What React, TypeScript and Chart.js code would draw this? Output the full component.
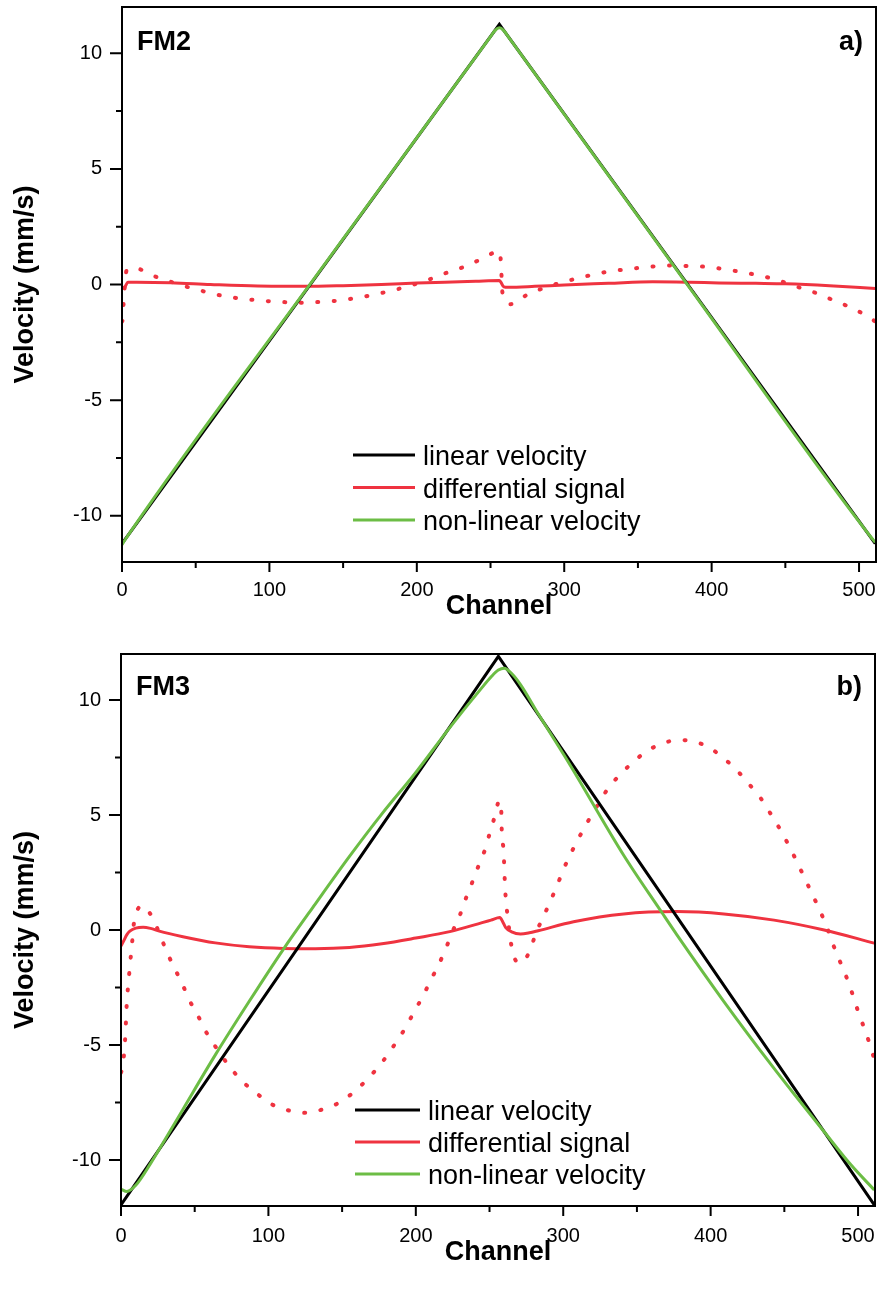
import { useEffect, useRef } from 'react';
import { Chart, registerables } from 'chart.js';

Chart.register(...registerables);

const FONT = '"Liberation Sans", Arial, Helvetica, sans-serif';
const BLACK = '#000000';
const RED = '#ef3340';
const GREEN = '#6cbd45';

// Axis ticks
const xMajorTicks = [0, 100, 200, 300, 400, 500];
const xMinorTicks = [50, 150, 250, 350, 450];
const yMajorTicks = [-10, -5, 0, 5, 10];
const yMinorTicks = [-7.5, -2.5, 2.5, 7.5];
const xRange = [0, 511.5];
const yRange = [-12, 12];

const xTitle = 'Channel';
const yTitle = 'Velocity (mm/s)';
const legendLabels = ['linear velocity', 'differential signal', 'non-linear velocity'];

type Pt = [number, number];

// ---- FM2 (channel, velocity) ----
const fm2Linear: Pt[] = [[0, -11.2], [256, 11.25], [511, -11.2]];
const fm2NonLinear: Pt[] = [
  [0, -11.25], [3, -10.95], [128, 0.05], [250, 10.72], [253, 10.98], [256, 11.1],
  [259, 10.98], [262, 10.72], [384, -0.05], [508, -10.92], [511, -11.15],
];
const fm2Diff: Pt[] = [
  [0, -0.15], [2, -0.1], [4, 0.1], [10, 0.1], [33, 0.08], [60, 0.0], [92, -0.07],
  [124, -0.08], [150, -0.05], [176, 0.0], [200, 0.06], [219, 0.1], [240, 0.14],
  [256, 0.17], [257, 0.1], [259, -0.1], [262, -0.12], [280, -0.08], [300, -0.02],
  [330, 0.05], [360, 0.12], [385, 0.1], [405, 0.07], [430, 0.05], [450, 0.03],
  [480, -0.05], [511, -0.17],
];
const fm2DiffDotted: Pt[] = [
  [0, -1.6], [0.4, -1.52], [1.1, -0.79], [2, 0.0], [3.1, 0.61], [7, 0.7], [11, 0.68],
  [22, 0.36], [33, 0.12], [44, -0.1], [55, -0.29], [66, -0.46], [77, -0.58], [88, -0.66],
  [99, -0.72], [110, -0.76], [121, -0.79], [132, -0.76], [143, -0.72], [154, -0.63],
  [164.5, -0.52], [176, -0.37], [187, -0.2], [198, 0.0], [209, 0.23], [220, 0.5],
  [231, 0.74], [242, 1.05], [253, 1.4], [256, 1.45], [257, 1.0], [258, -0.3], [260, -0.7],
  [263.7, -0.85], [269, -0.7], [275, -0.43], [286, -0.16], [297, 0.07], [308, 0.25],
  [319, 0.42], [330, 0.56], [340, 0.64], [351, 0.72], [362, 0.79], [373, 0.82], [384, 0.8],
  [395, 0.77], [405.6, 0.69], [416.5, 0.58], [427.6, 0.45], [438.4, 0.3], [449, 0.1],
  [460, -0.14], [471.7, -0.39], [482.5, -0.68], [493.4, -0.97], [504.6, -1.33], [511, -1.6],
];

// ---- FM3 (channel, velocity) ----
const fm3Linear: Pt[] = [[0, -11.95], [256, 11.9], [511, -11.95]];
const fm3NonLinear: Pt[] = [
  [0, -11.27], [4, -11.37], [10, -11.1], [20, -10.16], [30, -9.1], [42, -7.8],
  [64, -5.43], [87, -3.1], [110, -0.85], [132, 1.15], [155, 3.2], [177, 5.05],
  [200, 6.85], [223, 8.8], [245, 10.55], [251, 11.0], [256, 11.3], [260, 11.38],
  [265, 11.15], [271, 10.67], [283, 9.4], [303, 7.35], [341, 3.25], [367, 0.75],
  [377, -0.2], [409, -3.11], [443, -6.02], [455, -7.0], [477, -8.77], [495, -10.2],
  [511, -11.3],
];
const fm3Diff: Pt[] = [
  [0, -0.7], [2, -0.45], [4, -0.2], [6, -0.05], [10, 0.08], [15, 0.12], [20, 0.07],
  [26, -0.05], [42, -0.29], [64, -0.56], [87, -0.73], [110, -0.8], [132, -0.81],
  [155, -0.76], [177, -0.6], [200, -0.35], [223, -0.07], [245, 0.32], [251, 0.43],
  [257, 0.54], [259, 0.35], [261, 0.1], [265, -0.08], [271, -0.17], [277, -0.12],
  [283, -0.03], [307, 0.36], [341, 0.7], [377, 0.8], [409, 0.7], [443, 0.43], [477, 0.0],
  [511, -0.57],
];
const fm3DiffDotted: Pt[] = [
  [0, -6.2], [1.1, -5.94], [2.9, -4.64], [3.8, -3.33], [5.6, -1.88], [7.5, -0.58],
  [9, 0.43], [11, 0.85], [13.6, 1.05], [16, 1.0], [21, 0.58], [26, -0.14], [31, -0.94],
  [36, -1.62], [41.4, -2.32], [46.3, -3.04], [52, -3.7], [57.6, -4.42], [64.4, -5.1],
  [72.4, -5.83], [81.4, -6.52], [92.7, -7.14], [102.9, -7.6], [114, -7.85], [125, -7.95],
  [136.8, -7.8], [147, -7.54], [157.5, -7.07], [168.4, -6.4], [177.5, -5.72], [185.4, -5.0],
  [192.8, -4.27], [198.9, -3.55], [204.6, -2.9], [210.2, -2.17], [215.4, -1.52],
  [220.4, -0.8], [224.9, -0.07], [229.9, 0.65], [234, 1.38], [238, 2.03], [242.3, 2.75],
  [246.4, 3.4], [249.8, 4.13], [253.2, 4.86], [256.6, 5.6], [257.7, 5.6], [258.4, 4.13],
  [259.5, 3.48], [260, 2.75], [260.4, 2.06], [261, 1.38], [262.2, 0.65], [265, -0.73],
  [269.4, -1.42], [273, -1.35], [277.6, -0.87], [281.4, -0.14], [286.6, 0.58],
  [291.1, 1.23], [295.7, 1.91], [300.2, 2.64], [305.2, 3.33], [310.8, 4.03], [316.9, 4.74],
  [323.3, 5.43], [330.5, 6.16], [340.2, 6.86], [350, 7.45], [360, 7.9], [370, 8.17],
  [380, 8.26], [390, 8.17], [400, 7.9], [408, 7.5], [415.5, 7.1], [425, 6.42], [434, 5.73],
  [440.8, 5.04], [447.6, 4.32], [453.2, 3.65], [458.5, 2.97], [463.8, 2.25], [469, 1.55],
  [474.2, 0.83], [478.8, 0.14], [482.6, -0.55], [487.1, -1.27], [491.6, -1.96],
  [495.5, -2.65], [499.1, -3.36], [503, -4.06], [507, -4.78], [510.4, -5.48], [511, -5.6],
];

type PanelSpec = {
  tag: string;
  letter: string;
  linear: Pt[];
  nonLinear: Pt[];
  diff: Pt[];
  diffDotted: Pt[];
  top: number;
  height: number;
  padTop: number;
  padRight: number;
  yAxisWidth: number;
  xAxisHeight: number;
  xTickPad: number;
  xTitlePad: number;
  tagBaseline: number;
  legend: { x0: number; x1: number; textX: number; rows: number[] };
};

const panels: PanelSpec[] = [
  {
    tag: 'FM2', letter: 'a)',
    linear: fm2Linear, nonLinear: fm2NonLinear, diff: fm2Diff, diffDotted: fm2DiffDotted,
    top: 0, height: 640, padTop: 7, padRight: 1, yAxisWidth: 122, xAxisHeight: 78,
    xTickPad: 16, xTitlePad: 17, tagBaseline: 50,
    legend: { x0: 353, x1: 415, textX: 423, rows: [455, 487.5, 520] },
  },
  {
    tag: 'FM3', letter: 'b)',
    linear: fm3Linear, nonLinear: fm3NonLinear, diff: fm3Diff, diffDotted: fm3DiffDotted,
    top: 640, height: 651, padTop: 14, padRight: 2, yAxisWidth: 121, xAxisHeight: 85,
    xTickPad: 18, xTitlePad: 22, tagBaseline: 55,
    legend: { x0: 355, x1: 420, textX: 428, rows: [470, 502, 534] },
  },
];

const toPoints = (pts: Pt[]) => pts.map(([x, y]) => ({ x, y }));

// Frame, tick marks, panel tags and the in-plot legend
const panelDecor = {
  id: 'panelDecor',
  afterDraw(chart: any, _args: any, opts: any) {
    const { ctx, chartArea: a } = chart;
    const xs = chart.scales.x;
    const ys = chart.scales.y;
    ctx.save();
    ctx.strokeStyle = BLACK;
    ctx.lineWidth = 2;
    ctx.lineCap = 'butt';
    ctx.strokeRect(a.left, a.top, a.right - a.left, a.bottom - a.top);

    ctx.beginPath();
    const tickX = (vals: number[], len: number) =>
      vals.forEach((v) => {
        const p = xs.getPixelForValue(v);
        ctx.moveTo(p, a.bottom);
        ctx.lineTo(p, a.bottom + len);
      });
    const tickY = (vals: number[], len: number) =>
      vals.forEach((v) => {
        const p = ys.getPixelForValue(v);
        ctx.moveTo(a.left, p);
        ctx.lineTo(a.left - len, p);
      });
    tickX(xMajorTicks, 10);
    tickX(xMinorTicks, 6);
    tickY(yMajorTicks, 12);
    tickY(yMinorTicks, 6);
    ctx.stroke();

    ctx.fillStyle = BLACK;
    ctx.font = `bold 27px ${FONT}`;
    ctx.textBaseline = 'alphabetic';
    ctx.textAlign = 'left';
    ctx.fillText(opts.tag, a.left + 15, opts.tagBaseline);
    ctx.textAlign = 'right';
    ctx.fillText(opts.letter, a.right - 13, opts.tagBaseline);

    const lg = opts.legend;
    ctx.font = `27px ${FONT}`;
    ctx.textAlign = 'left';
    ctx.lineWidth = 3;
    legendLabels.forEach((label, i) => {
      const ds = chart.data.datasets.find((d: any) => d.label === label);
      if (!ds) return;
      const y = lg.rows[i];
      ctx.strokeStyle = ds.borderColor;
      ctx.beginPath();
      ctx.moveTo(lg.x0, y);
      ctx.lineTo(lg.x1, y);
      ctx.stroke();
      ctx.fillText(label, lg.textX, y + 10);
    });
    ctx.restore();
  },
};

function buildConfig(spec: PanelSpec): any {
  const line = { pointRadius: 0, pointHoverRadius: 0, fill: false };
  const smooth = { ...line, cubicInterpolationMode: 'monotone' };
  return {
    type: 'line',
    data: {
      datasets: [
        { ...line, tension: 0, label: legendLabels[0], data: toPoints(spec.linear), borderColor: BLACK, borderWidth: 3, order: 1 },
        { ...smooth, label: legendLabels[1], data: toPoints(spec.diff), borderColor: RED, borderWidth: 3, order: 2 },
        {
          ...smooth, label: 'differential signal (dotted)', data: toPoints(spec.diffDotted),
          borderColor: RED, borderWidth: 4, borderDash: [1, 15.5], borderCapStyle: 'round', order: 3,
        },
        { ...smooth, label: legendLabels[2], data: toPoints(spec.nonLinear), borderColor: GREEN, borderWidth: 3, order: 0 },
      ],
    },
    options: {
      responsive: false,
      maintainAspectRatio: false,
      animation: false,
      devicePixelRatio: 1,
      events: [],
      layout: { padding: { top: spec.padTop, right: spec.padRight, left: 0, bottom: 0 } },
      plugins: {
        legend: { display: false },
        tooltip: { enabled: false },
        panelDecor: { tag: spec.tag, letter: spec.letter, tagBaseline: spec.tagBaseline, legend: spec.legend },
      },
      scales: {
        x: {
          type: 'linear',
          min: xRange[0],
          max: xRange[1],
          bounds: 'data',
          afterBuildTicks: (s: any) => { s.ticks = xMajorTicks.map((value) => ({ value })); },
          afterFit: (s: any) => { s.height = spec.xAxisHeight; s.paddingLeft = 0; s.paddingRight = 0; },
          grid: { display: false, drawTicks: false },
          border: { display: false },
          ticks: {
            color: BLACK, font: { family: FONT, size: 20 }, padding: spec.xTickPad,
            maxRotation: 0, autoSkip: false, callback: (v: number) => String(v),
          },
          title: {
            display: true, text: xTitle, color: BLACK,
            font: { family: FONT, size: 27, weight: 'bold' },
            padding: { top: 0, bottom: spec.xTitlePad },
          },
        },
        y: {
          type: 'linear',
          min: yRange[0],
          max: yRange[1],
          bounds: 'data',
          afterBuildTicks: (s: any) => { s.ticks = yMajorTicks.map((value) => ({ value })); },
          afterFit: (s: any) => { s.width = spec.yAxisWidth; s.paddingTop = 0; s.paddingBottom = 0; },
          grid: { display: false, drawTicks: false },
          border: { display: false },
          ticks: {
            color: BLACK, font: { family: FONT, size: 20 }, padding: 20,
            autoSkip: false, callback: (v: number) => String(v),
          },
          title: {
            display: true, text: yTitle, color: BLACK,
            font: { family: FONT, size: 27, weight: 'bold' },
            padding: { top: 9, bottom: 0 },
          },
        },
      },
    },
    plugins: [panelDecor],
  };
}

function Panel({ spec }: { spec: PanelSpec }) {
  const ref = useRef<HTMLCanvasElement>(null);
  useEffect(() => {
    if (!ref.current) return;
    const chart = new Chart(ref.current, buildConfig(spec));
    return () => chart.destroy();
  }, [spec]);
  return (
    <canvas
      ref={ref}
      width={877}
      height={spec.height}
      style={{ position: 'absolute', left: 0, top: spec.top, width: 877, height: spec.height, display: 'block' }}
    />
  );
}

export default function App() {
  return (
    <div style={{ position: 'absolute', left: 0, top: 0, width: 877, height: 1291, background: '#ffffff', overflow: 'hidden' }}>
      {panels.map((p) => (
        <Panel key={p.tag} spec={p} />
      ))}
    </div>
  );
}
